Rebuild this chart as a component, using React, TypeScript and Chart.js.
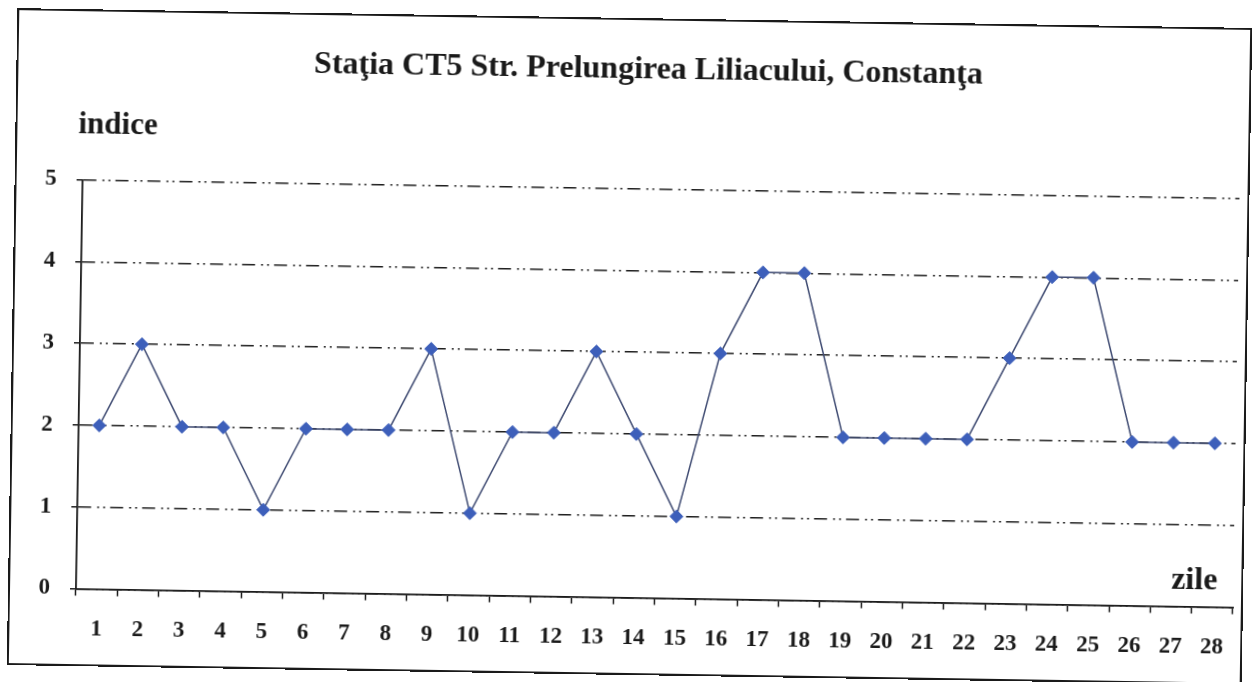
import React, { useEffect, useRef } from "react";
import { Chart, registerables } from "chart.js";

Chart.register(...registerables);

const days = ["1","2","3","4","5","6","7","8","9","10","11","12","13","14","15","16","17","18","19","20","21","22","23","24","25","26","27","28"];
const indexValues = [2, 3, 2, 2, 1, 2, 2, 2, 3, 1, 2, 2, 3, 2, 1, 3, 4, 4, 2, 2, 2, 2, 3, 4, 4, 2, 2, 2];
const yTicks = [0, 1, 2, 3, 4, 5];
const titleText = "Staţia CT5 Str. Prelungirea Liliacului, Constanţa";
const yAxisTitle = "indice";
const xAxisTitle = "zile";

const W = 1235;
const H = 657;
const SERIF = '"Liberation Serif", "Times New Roman", serif';

const textPlugin = {
  id: "freeTexts",
  afterDraw(chart: any) {
    const ctx = chart.ctx;
    ctx.save();
    ctx.fillStyle = "#1a1a1a";
    ctx.textBaseline = "middle";
    ctx.font = `bold 32px ${SERIF}`;
    ctx.textAlign = "center";
    ctx.fillText(titleText, 632, 52);
    ctx.font = `bold 31px ${SERIF}`;
    ctx.textAlign = "left";
    ctx.fillText(yAxisTitle, 63, 116);
    ctx.font = `bold 32px ${SERIF}`;
    ctx.textAlign = "center";
    ctx.fillText(xAxisTitle, 1186, 554);
    ctx.restore();
  },
};

export default function App() {
  const ref = useRef<HTMLCanvasElement | null>(null);
  useEffect(() => {
    if (!ref.current) return;
    const chart = new Chart(ref.current, {
      type: "line",
      data: {
        labels: days,
        datasets: [
          {
            data: indexValues,
            borderColor: "#3f4b72",
            borderWidth: 1.5,
            tension: 0,
            pointStyle: "rectRot",
            pointRadius: 6.5,
            pointBackgroundColor: "#3d5fba",
            pointBorderColor: "#3d5fba",
            pointBorderWidth: 1,
          },
        ],
      },
      options: {
        responsive: false,
        animation: false,
        events: [],
        layout: { padding: { left: 0, top: 170.5, right: 10, bottom: 0 } },
        plugins: { legend: { display: false }, title: { display: false }, tooltip: { enabled: false } },
        scales: {
          x: {
            type: "category",
            offset: true,
            afterFit: (s: any) => {
              s.height = 77.5;
              s.paddingLeft = 0;
              s.paddingRight = 0;
            },
            grid: {
              display: true,
              offset: true,
              drawOnChartArea: false,
              drawTicks: true,
              tickLength: 7,
              tickColor: "#1a1a1a",
              tickWidth: 1.5,
            },
            border: { display: true, color: "#1a1a1a", width: 1.8 },
            ticks: {
              color: "#1a1a1a",
              font: { family: SERIF, size: 23, weight: "bold" },
              padding: 20,
              maxRotation: 0,
              autoSkip: false,
            },
          },
          y: {
            min: 0,
            max: 5,
            afterBuildTicks: (s: any) => {
              s.ticks = yTicks.map((v) => ({ value: v }));
            },
            afterFit: (s: any) => {
              s.width = 68;
              s.paddingTop = 0;
              s.paddingBottom = 0;
            },
            grid: {
              display: true,
              color: "#1f1f1f",
              lineWidth: 1.5,
              drawTicks: true,
              tickLength: 6,
              tickColor: "#1a1a1a",
              tickWidth: 1.5,
              tickBorderDash: [],
            },
            border: { display: true, color: "#1a1a1a", width: 1.8, dash: [13, 6, 2, 4, 2, 5] },
            ticks: {
              color: "#1a1a1a",
              font: { family: SERIF, size: 23, weight: "bold" },
              padding: 20,
            },
          },
        },
      },
      plugins: [textPlugin],
    } as any);
    return () => chart.destroy();
  }, []);

  return (
    <div
      style={{
        position: "absolute",
        left: 11.5,
        top: 17.5,
        width: W,
        height: H,
        transform: "rotate(0.92deg)",
        transformOrigin: "center center",
        background: "#fff",
      }}
    >
      <canvas ref={ref} width={W} height={H} style={{ width: W, height: H, display: "block" }} />
      <div
        style={{
          position: "absolute",
          left: 0,
          top: 0,
          width: W,
          height: H,
          boxSizing: "border-box",
          border: "2px solid #1a1a1a",
          pointerEvents: "none",
        }}
      />
    </div>
  );
}
